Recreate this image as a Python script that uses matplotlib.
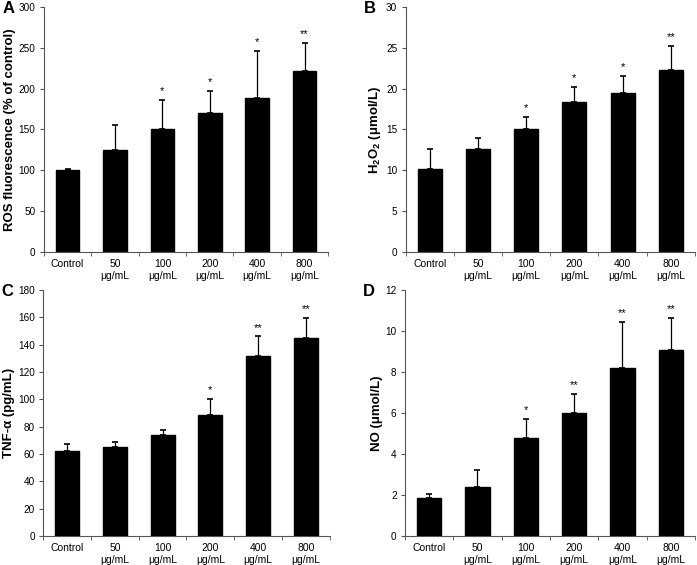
import matplotlib.pyplot as plt
import numpy as np

plt.rcParams['font.family'] = ['Liberation Sans', 'DejaVu Sans']
plt.rcParams['mathtext.fontset'] = 'custom'
plt.rcParams['mathtext.rm'] = 'Liberation Sans'
plt.rcParams['mathtext.bf'] = 'Liberation Sans:bold'

categories = ['Control', '50\nμg/mL', '100\nμg/mL', '200\nμg/mL', '400\nμg/mL', '800\nμg/mL']

ros_mean = [100, 125, 151, 170, 188, 222]
ros_err = [1, 30, 35, 27, 58, 34]
ros_sig = ['', '', '*', '*', '*', '**']

h2o2_mean = [10.2, 12.6, 15.0, 18.3, 19.5, 22.3]
h2o2_err = [2.4, 1.3, 1.5, 1.9, 2.0, 2.9]
h2o2_sig = ['', '', '*', '*', '*', '**']

tnf_mean = [62, 65.5, 74, 88.5, 131.5, 144.5]
tnf_err = [5, 3.5, 3.5, 12, 14.5, 15]
tnf_sig = ['', '', '', '*', '**', '**']

no_mean = [1.85, 2.4, 4.8, 6.0, 8.2, 9.05]
no_err = [0.2, 0.8, 0.9, 0.95, 2.25, 1.6]
no_sig = ['', '', '*', '**', '**', '**']

panels = [
    ('A', ros_mean, ros_err, ros_sig, 'ROS fluorescence (% of control)', 300, 50,
     [0.063, 0.554, 0.408, 0.434]),
    ('B', h2o2_mean, h2o2_err, h2o2_sig, r'$\mathbf{H_2O_2}$ (μmol/L)', 30, 5,
     [0.582, 0.554, 0.415, 0.434]),
    ('C', tnf_mean, tnf_err, tnf_sig, 'TNF-α (pg/mL)', 180, 20,
     [0.062, 0.051, 0.411, 0.436]),
    ('D', no_mean, no_err, no_sig, 'NO (μmol/L)', 12, 2,
     [0.581, 0.051, 0.416, 0.436]),
]

fig = plt.figure(figsize=(6.97, 5.65), dpi=100)
x = np.arange(len(categories))
axis_color = '#555555'

for letter, mean, err, sig, ylabel, ymax, step, rect in panels:
    ax = fig.add_axes(rect)
    ax.bar(x, mean, 0.5, color='black', edgecolor='black', zorder=2)
    ax.errorbar(x, mean, yerr=[np.zeros(len(mean)), err], fmt='none',
                ecolor='black', elinewidth=0.9, capsize=2, capthick=1.2, zorder=1)
    for xi, m, e, s in zip(x, mean, err, sig):
        if s:
            ax.text(xi, m + e + ymax * 0.015, s, ha='center', va='bottom', fontsize=8)
    ax.set_xlim(-0.5, 5.5)
    ax.set_ylim(0, ymax)
    ax.set_yticks(np.arange(0, ymax + step / 2, step))
    ax.set_xticks(x)
    ax.set_xticklabels(categories, fontsize=7.5)
    ax.set_xticks(np.arange(-0.5, 6, 1), minor=True)
    ax.tick_params(axis='x', which='major', length=0, pad=5)
    ax.tick_params(axis='x', which='minor', length=3, direction='out', color=axis_color)
    ax.tick_params(axis='y', labelsize=7.2, length=3, pad=3, direction='out', color=axis_color)
    ax.spines['top'].set_visible(False)
    ax.spines['right'].set_visible(False)
    ax.spines['left'].set_color(axis_color)
    ax.spines['bottom'].set_color(axis_color)
    ax.set_ylabel(ylabel, fontsize=9.5, fontweight='bold', labelpad=2)
    ax.text(-0.145, 0.995, letter, transform=ax.transAxes, fontsize=12,
            fontweight='bold', ha='left', va='center')

plt.savefig('out.png', dpi=100)
